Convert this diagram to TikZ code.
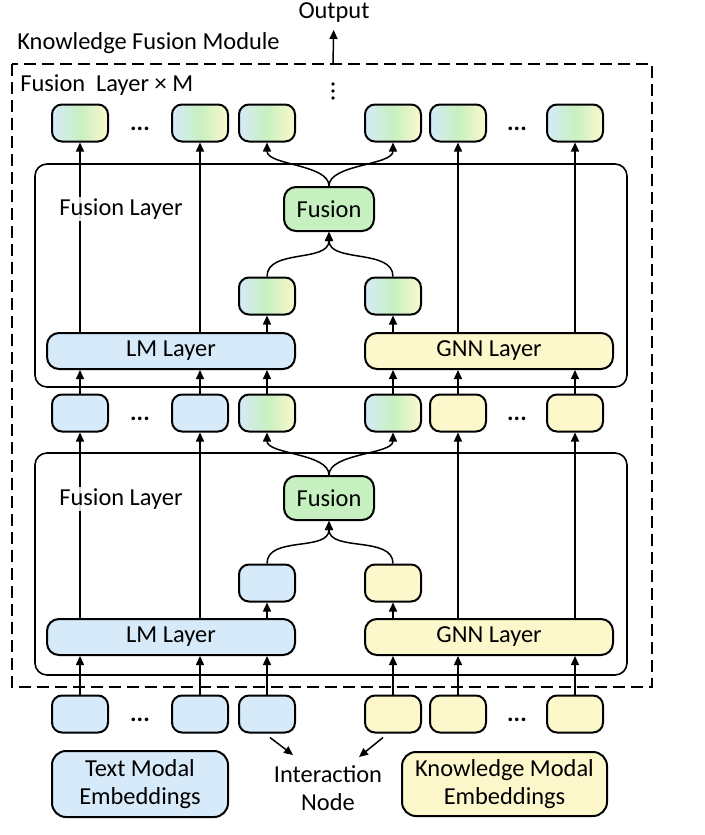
\documentclass[tikz,border=0pt]{standalone}
\usepackage{fontspec}
\setmainfont{Carlito}
\usetikzlibrary{arrows.meta}
\definecolor{lmblue}{RGB}{214,234,250}
\definecolor{kgyellow}{RGB}{252,248,204}
\definecolor{fusegreen}{RGB}{199,240,192}

\begin{document}
\begin{tikzpicture}[x=0.5pt, y=-0.5pt,
		font=\fontsize{12.2}{14}\selectfont,
		tok/.style={draw, line width=1pt, rounded corners=5pt, minimum width=28pt, minimum height=18.5pt, inner sep=0pt},
		tokb/.style={tok, fill=lmblue},
		toky/.style={tok, fill=kgyellow},
		tokm/.style={tok, left color=lmblue, right color=kgyellow, middle color=fusegreen},
		layerbox/.style={draw, line width=1pt, rounded corners=6pt, minimum width=124pt, minimum height=18pt, inner sep=0pt},
		fusebox/.style={draw, line width=1pt, rounded corners=6pt, fill=fusegreen, minimum width=45pt, minimum height=22pt, inner sep=0pt},
		embbox/.style={draw, line width=1pt, rounded corners=7pt, align=center, inner sep=0pt},
		flbox/.style={draw, line width=0.8pt, rounded corners=6pt},
		fllabel/.style={fill=white, fill opacity=0.85, text opacity=1, inner sep=1pt},
		dotrow/.style={inner sep=0pt, font=\fontsize{12.2}{14}\selectfont\bfseries},
		arr/.style={line width=0.75pt, -{Triangle[length=4.5pt,width=4pt]}}]
			\useasboundingbox (0,0) rectangle (705,835);

			% output and module frame
			\node (out) at (334,13) {Output};
			\node[anchor=west, inner sep=0pt] (kfm) at (17,43) {Knowledge Fusion Module};
			\draw[line width=0.8pt, dash pattern=on 6pt off 3pt] (12,64) rectangle (652,687);
			\coordinate (kfmtop) at (333,64);
			\draw[arr] (kfmtop) -- (out);
			\node[anchor=west, inner sep=0pt] (mtimes) at (20,85) {Fusion\ \ Layer × M};
			% vertical dots
			\fill (333,84) circle (0.9pt);
			\fill (333,91) circle (0.9pt);
			\fill (333,98) circle (0.9pt);

			% top row
			\node[tokm] (t1) at (80,123) {};
			\node[tokm] (t2) at (200,123) {};
			\node[tokm] (t3) at (267,123) {};
			\node[tokm] (t4) at (393,123) {};
			\node[tokm] (t5) at (458,123) {};
			\node[tokm] (t6) at (575,123) {};
			\node[dotrow] (tdl) at (140,129) {...};
			\node[dotrow] (tdr) at (517,129) {...};

			% upper fusion layer
			\draw[flbox] (35,164) rectangle (627,387);
			\node[fusebox] (uf) at (329,209) {Fusion};
			\node[tokm] (ua) at (267,296) {};
			\node[tokm] (ub) at (393,296) {};
			\node[layerbox, fill=lmblue] (ulm) at (171,351) {LM Layer};
			\node[layerbox, fill=kgyellow] (ugnn) at (489,351) {GNN Layer};

			% middle row
			\node[tokb] (m1) at (80,413) {};
			\node[tokb] (m2) at (200,413) {};
			\node[tokm] (m3) at (267,413) {};
			\node[tokm] (m4) at (393,413) {};
			\node[toky] (m5) at (458,413) {};
			\node[toky] (m6) at (575,413) {};
			\node[dotrow] (mdl) at (140,419) {...};
			\node[dotrow] (mdr) at (517,419) {...};

			% lower fusion layer
			\draw[flbox] (35,453) rectangle (627,675);
			\node[fusebox] (lf) at (329,498) {Fusion};
			\node[tokb] (la) at (267,583) {};
			\node[toky] (lb) at (393,583) {};
			\node[layerbox, fill=lmblue] (llm) at (171,637) {LM Layer};
			\node[layerbox, fill=kgyellow] (lgnn) at (489,637) {GNN Layer};

			% input row
			\node[tokb] (b1) at (80,714) {};
			\node[tokb] (b2) at (200,714) {};
			\node[tokb] (b3) at (267,714) {};
			\node[toky] (b4) at (393,714) {};
			\node[toky] (b5) at (458,714) {};
			\node[toky] (b6) at (575,714) {};
			\node[dotrow] (bdl) at (140,720) {...};
			\node[dotrow] (bdr) at (517,720) {...};

			% embeddings
			\node[embbox, fill=lmblue, minimum width=88pt, minimum height=33pt] (temb) at (140,784) {Text Modal\\Embeddings};
			\node[embbox, fill=kgyellow, minimum width=102.5pt, minimum height=32pt] (kemb) at (504.5,784) {Knowledge Modal\\Embeddings};
			\node[align=center] (inter) at (328,788) {Interaction\\Node};

			% upper arrows
			\draw[arr] (ulm.north -| t1) -- (t1.south);
			\draw[arr] (ulm.north -| t2) -- (t2.south);
			\draw[arr] (ulm.north -| ua) -- (ua.south);
			\draw[arr] (ugnn.north -| ub) -- (ub.south);
			\draw[arr] (ugnn.north -| t5) -- (t5.south);
			\draw[arr] (ugnn.north -| t6) -- (t6.south);
			\draw[arr] (ua.north) .. controls +(0,-28) and +(0,31) .. (uf.south);
			\draw[arr] (ub.north) .. controls +(0,-28) and +(0,31) .. (uf.south);
			\draw[arr] (uf.north) .. controls +(0,-22) and +(0,23) .. (t3.south);
			\draw[arr] (uf.north) .. controls +(0,-22) and +(0,23) .. (t4.south);

			% between the layers
			\draw[arr] (m1.north) -- (ulm.south -| m1);
			\draw[arr] (m2.north) -- (ulm.south -| m2);
			\draw[arr] (m3.north) -- (ulm.south -| m3);
			\draw[arr] (m4.north) -- (ugnn.south -| m4);
			\draw[arr] (m5.north) -- (ugnn.south -| m5);
			\draw[arr] (m6.north) -- (ugnn.south -| m6);

			% lower arrows
			\draw[arr] (llm.north -| m1) -- (m1.south);
			\draw[arr] (llm.north -| m2) -- (m2.south);
			\draw[arr] (llm.north -| la) -- (la.south);
			\draw[arr] (lgnn.north -| lb) -- (lb.south);
			\draw[arr] (lgnn.north -| m5) -- (m5.south);
			\draw[arr] (lgnn.north -| m6) -- (m6.south);
			\draw[arr] (la.north) .. controls +(0,-28) and +(0,31) .. (lf.south);
			\draw[arr] (lb.north) .. controls +(0,-28) and +(0,31) .. (lf.south);
			\draw[arr] (lf.north) .. controls +(0,-22) and +(0,22) .. (m3.south);
			\draw[arr] (lf.north) .. controls +(0,-22) and +(0,22) .. (m4.south);

			% inputs
			\draw[arr] (b1.north) -- (llm.south -| b1);
			\draw[arr] (b2.north) -- (llm.south -| b2);
			\draw[arr] (b3.north) -- (llm.south -| b3);
			\draw[arr] (b4.north) -- (lgnn.south -| b4);
			\draw[arr] (b5.north) -- (lgnn.south -| b5);
			\draw[arr] (b6.north) -- (lgnn.south -| b6);

			% interaction node
			\coordinate (ia) at (293,755);
			\coordinate (ib) at (359,757);
			\draw[arr] ([shift={(1.5pt,-2pt)}]b3.south) -- (ia);
			\draw[arr] ([shift={(-5pt,-2pt)}]b4.south) -- (ib);

			% layer labels over the lines
			\node[fllabel] (ufl) at (121,209) {Fusion Layer};
			\node[fllabel] (lfl) at (121,499) {Fusion Layer};
		\end{tikzpicture}
\end{document}
